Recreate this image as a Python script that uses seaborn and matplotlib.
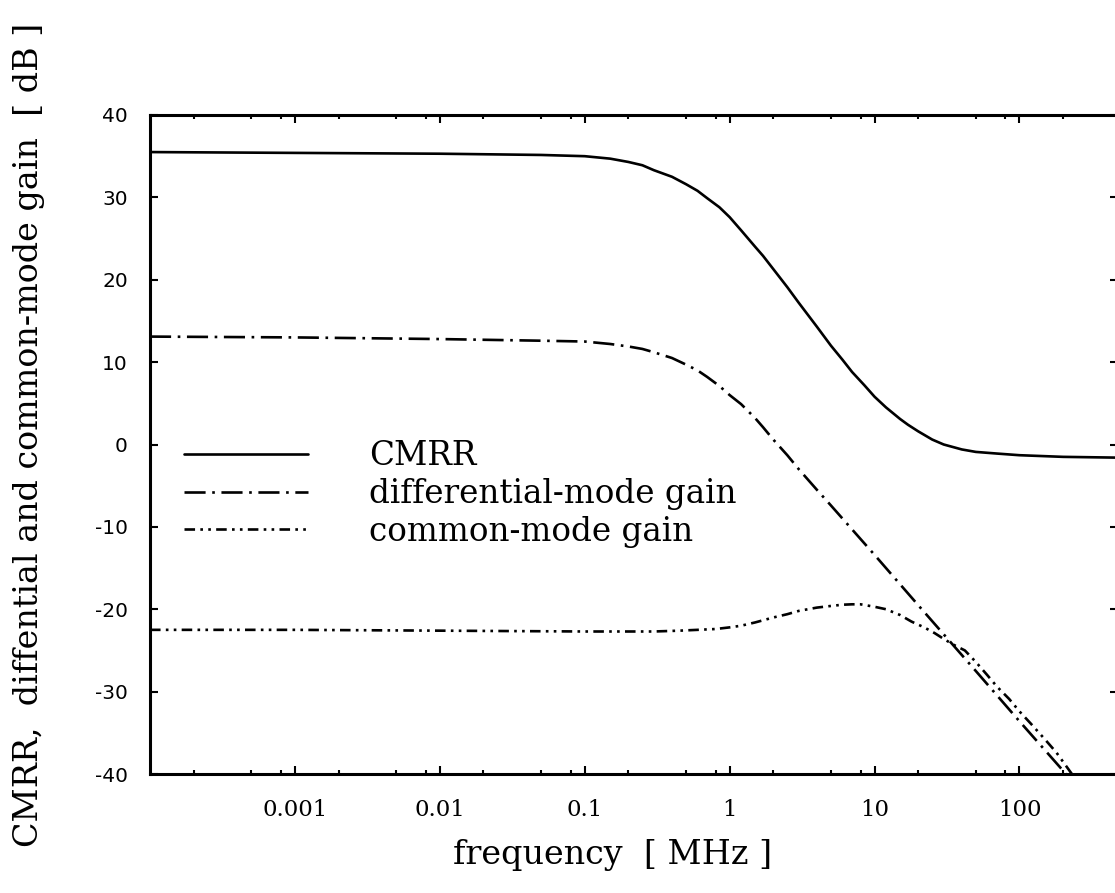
import matplotlib
matplotlib.use("Agg")
import matplotlib.pyplot as plt
from matplotlib.ticker import LogLocator, NullFormatter
import seaborn as sns
import pandas as pd

# values (frequency in MHz, gain in dB)
cmrr_f = [1e-4, 1e-3, 1e-2, 0.05, 0.1, 0.15, 0.2, 0.25, 0.3, 0.4, 0.5, 0.6, 0.7, 0.85, 1, 1.2, 1.5, 1.7,
          2, 2.5, 3, 4, 5, 6, 7, 8.5, 10, 12, 15, 17, 20, 25, 30, 40, 50, 70, 100, 200, 500]
cmrr_db = [35.5, 35.4, 35.3, 35.15, 35.0, 34.7, 34.3, 33.9, 33.3, 32.5, 31.6, 30.8, 29.9, 28.8, 27.6, 26.0, 24.0, 22.9,
           21.3, 19.1, 17.2, 14.3, 12.0, 10.3, 8.8, 7.2, 5.8, 4.5, 3.1, 2.4, 1.6, 0.6, 0.0, -0.6, -0.9, -1.1, -1.3, -1.5, -1.6]

diff_f = [1e-4, 1e-3, 1e-2, 0.05, 0.1, 0.15, 0.2, 0.25, 0.3, 0.4, 0.5, 0.6, 0.7, 0.85, 1, 1.2, 1.5, 1.7,
          2, 2.5, 3, 4, 5, 10, 20, 50, 100, 200, 209]
diff_db = [13.1, 13.0, 12.8, 12.6, 12.5, 12.2, 11.9, 11.6, 11.2, 10.5, 9.7, 9.0, 8.2, 7.1, 6.0, 4.9, 3.2, 2.1,
           0.6, -1.3, -3.0, -5.5, -7.4, -13.4, -19.5, -27.5, -33.6, -39.6, -40.0]

comm_f = [1e-4, 1e-3, 1e-2, 0.1, 0.2, 0.3, 0.45, 0.6, 0.8, 1, 1.2, 1.5, 2, 2.5, 3, 4, 5, 6, 7, 8, 10, 12,
          15, 18, 22, 26, 30, 35, 42, 50, 60, 70, 85, 100, 120, 150, 180, 230]
comm_db = [-22.5, -22.5, -22.6, -22.7, -22.7, -22.7, -22.6, -22.5, -22.4, -22.2, -22.0, -21.6, -21.0, -20.6, -20.2,
           -19.8, -19.6, -19.45, -19.4, -19.4, -19.7, -20.0, -20.7, -21.5, -22.2, -22.9, -23.6, -24.3, -25.0,
           -26.4, -28.0, -29.4, -30.9, -32.4, -33.9, -35.8, -37.4, -40.0]

labels = ["CMRR", "differential-mode gain", "common-mode gain"]
x_ticks = [0.001, 0.01, 0.1, 1, 10, 100]
x_ticklabels = ["0.001", "0.01", "0.1", "1", "10", "100"]
y_ticks = [-40, -30, -20, -10, 0, 10, 20, 30, 40]
y_ticklabels = ["-40", "-30", "-20", "-10", "0", "10", "20", "30", "40"]

sns.set_style("ticks")
plt.rcParams["font.family"] = ["DejaVu Serif"]
for k in ["text.color", "axes.labelcolor", "xtick.color", "ytick.color", "axes.edgecolor"]:
    plt.rcParams[k] = "black"

fig = plt.figure(figsize=(11.15, 8.93), dpi=100)
ax = fig.add_axes([150 / 1115, 1 - 774 / 893, 968 / 1115, 659 / 893])

styles = ["-", (0, (8, 2.5, 1, 2.5)), (0, (4, 2, 1, 2, 1, 2))]
for f, db, lab, ls in zip([cmrr_f, diff_f, comm_f], [cmrr_db, diff_db, comm_db], labels, styles):
    df = pd.DataFrame({"freq": f, "gain": db})
    sns.lineplot(data=df, x="freq", y="gain", ax=ax, color="black", linewidth=1.9,
                 linestyle=ls, label=lab, legend=False)

ax.set_xscale("log")
ax.set_xlim(1e-4, 10 ** 2.68)
ax.set_ylim(-40, 40)

ax.set_xticks(x_ticks)
ax.set_xticklabels(x_ticklabels)
ax.xaxis.set_minor_locator(LogLocator(base=10, subs=(2, 5, 8), numticks=20))
ax.xaxis.set_minor_formatter(NullFormatter())
ax.set_yticks(y_ticks)
ax.set_yticklabels(y_ticklabels)

ax.tick_params(axis="both", which="both", direction="in", top=True, right=True)
ax.tick_params(axis="x", which="major", length=6, width=1.5, pad=18, labelsize=16.5)
ax.tick_params(axis="x", which="minor", length=3, width=1.5)
ax.tick_params(axis="y", which="major", length=6, width=1.5, pad=16, labelsize=14.5)
for t in ax.get_yticklabels():
    t.set_fontfamily(["DejaVu Sans"])

for sp in ax.spines.values():
    sp.set_linewidth(2.2)

ax.set_xlabel("frequency  [ MHz ]", fontsize=24)
ax.set_ylabel("CMRR,  diffential and common-mode gain  [ dB ]", fontsize=24)
ax.xaxis.set_label_coords(0.478, -0.098)
ax.yaxis.set_label_coords(-0.108, 0.514)

ax.legend(loc="center left", bbox_to_anchor=(0.035, 0.425), frameon=False, fontsize=23.5,
          handlelength=3.8, handletextpad=1.87, labelspacing=0.18, borderpad=0, borderaxespad=0)

fig.savefig("out.png", dpi=100)
